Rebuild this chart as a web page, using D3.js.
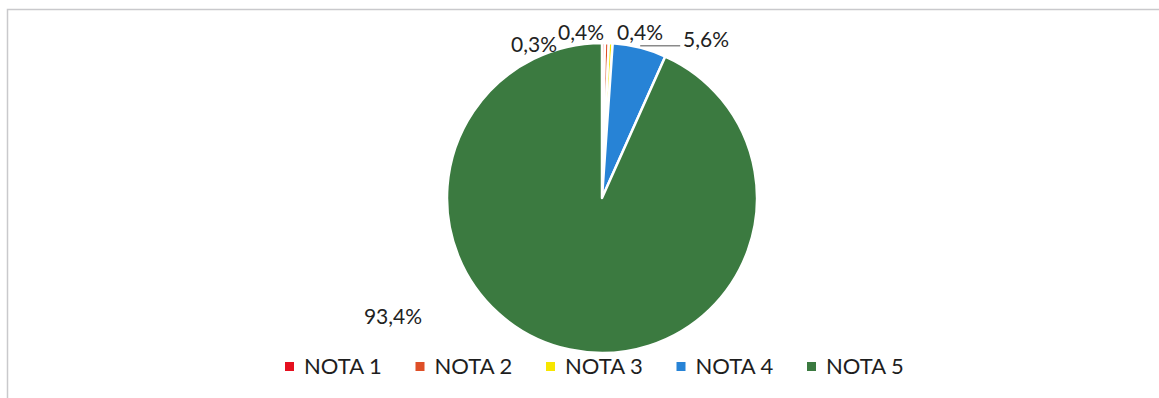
<!DOCTYPE html>
<html>
<head>
<meta charset="utf-8">
<script src="https://cdn.jsdelivr.net/npm/d3@7"></script>
<style>
  html, body { margin: 0; padding: 0; background: #ffffff; }
  svg { display: block; font-family: Lato, "Open Sans", sans-serif; }
</style>
</head>
<body>
<svg id="chart" width="1159" height="398"></svg>
<script>
// Share of grades (percent), one slice per grade
const categories = ["NOTA 1", "NOTA 2", "NOTA 3", "NOTA 4", "NOTA 5"];
const values = [0.3, 0.4, 0.4, 5.6, 93.4];
const labels = ["0,3%", "0,4%", "0,4%", "5,6%", "93,4%"];
const colors = ["#e5101f", "#de4f27", "#f7e600", "#2783d6", "#3b7a40"];

const svg = d3.select("#chart");
const W = 1159, H = 398;

// chart frame
svg.append("rect")
  .attr("x", 7.5).attr("y", 9.5)
  .attr("width", W + 20).attr("height", H + 20)
  .attr("fill", "#fff")
  .attr("stroke", "#c9c9cc").attr("stroke-width", 1.5);

const cx = 602, cy = 198, r = 155;

const pie = d3.pie().sort(null).value(d => d)(values);
const arc = d3.arc().innerRadius(0).outerRadius(r);

const g = svg.append("g").attr("transform", `translate(${cx},${cy})`);

g.selectAll("path.slice")
  .data(pie)
  .join("path")
  .attr("class", "slice")
  .attr("d", arc)
  .attr("fill", (d, i) => colors[i])
  .attr("stroke", "#ffffff")
  .attr("stroke-width", 2.5)
  .attr("stroke-linejoin", "round");

// data labels: placed around the slices, offsets in pixels relative to the pie centre
const labelPos = [
  { dx: -68, dy: -146 },
  { dx: -21, dy: -158 },
  { dx: 38, dy: -158 },
  { dx: 104, dy: -151 },
  { dx: -209, dy: 126 }
];

g.selectAll("text.lbl")
  .data(pie)
  .join("text")
  .attr("class", "lbl")
  .attr("x", (d, i) => labelPos[i].dx)
  .attr("y", (d, i) => labelPos[i].dy)
  .attr("text-anchor", "middle")
  .attr("font-size", 21)
  .attr("fill", "#222")
  .text((d, i) => labels[i]);

// leader line for the NOTA 4 label
const a4 = (pie[3].startAngle + pie[3].endAngle) / 2;
const edge = [Math.sin(pie[3].startAngle + 0.18) * r, -Math.cos(pie[3].startAngle + 0.18) * r];
g.append("path")
  .attr("d", d3.line()([[edge[0], edge[1] - 2], [edge[0] + 40, edge[1] - 2]]))
  .attr("fill", "none")
  .attr("stroke", "#8a8a8a")
  .attr("stroke-width", 1.5);

// legend
const legendX = d3.scalePoint().domain(categories).range([285, 807]);
const lg = svg.append("g");
const item = lg.selectAll("g.item")
  .data(categories)
  .join("g")
  .attr("class", "item")
  .attr("transform", d => `translate(${legendX(d)},0)`);

item.append("rect")
  .attr("x", 0).attr("y", 362)
  .attr("width", 9).attr("height", 9)
  .attr("fill", (d, i) => colors[i]);

item.append("text")
  .attr("x", 19).attr("y", 374)
  .attr("font-size", 22)
  .attr("fill", "#1e1e1e")
  .text(d => d);
</script>
</body>
</html>
